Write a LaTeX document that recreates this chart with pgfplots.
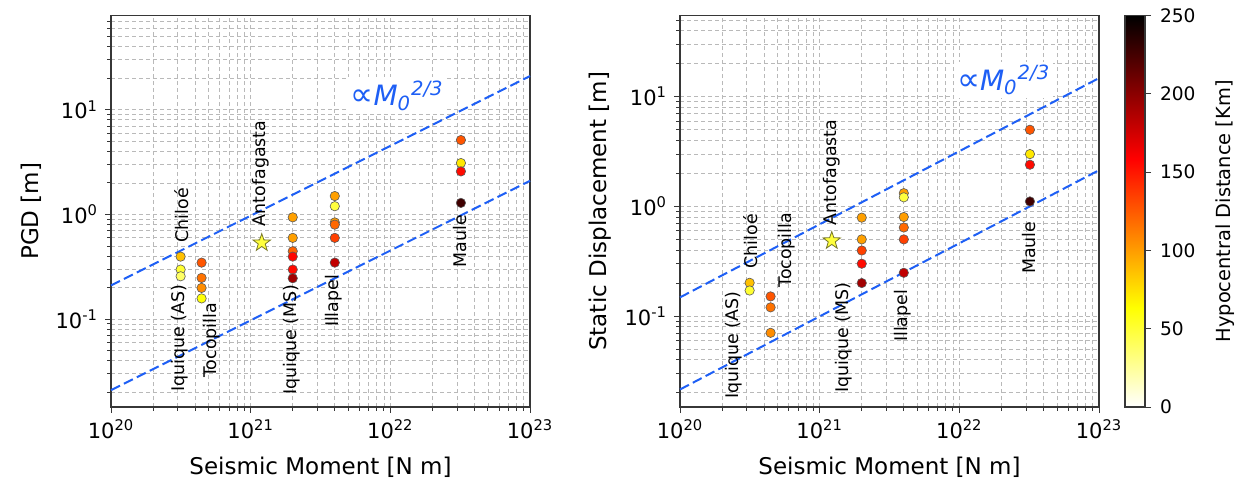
\documentclass[border=0pt]{standalone}
\usepackage{fontspec}
\setmainfont{DejaVu Sans}
\usepackage{graphicx}
\usepackage{pgfplots}
\pgfplotsset{compat=1.18}
\definecolor{lineblue}{RGB}{30,95,245}
\definecolor{gridgray}{RGB}{185,185,185}
\definecolor{axgray}{RGB}{55,55,55}
\definecolor{staryellow}{RGB}{255,255,60}
\definecolor{staredge}{RGB}{120,120,40}
\pgfdeclareplotmark{fstar}{%
  \pgfpathmoveto{\pgfpointpolar{90}{\pgfplotmarksize}}%
  \pgfpathlineto{\pgfpointpolar{126}{0.4\pgfplotmarksize}}%
  \pgfpathlineto{\pgfpointpolar{162}{\pgfplotmarksize}}%
  \pgfpathlineto{\pgfpointpolar{198}{0.4\pgfplotmarksize}}%
  \pgfpathlineto{\pgfpointpolar{234}{\pgfplotmarksize}}%
  \pgfpathlineto{\pgfpointpolar{270}{0.4\pgfplotmarksize}}%
  \pgfpathlineto{\pgfpointpolar{306}{\pgfplotmarksize}}%
  \pgfpathlineto{\pgfpointpolar{342}{0.4\pgfplotmarksize}}%
  \pgfpathlineto{\pgfpointpolar{18}{\pgfplotmarksize}}%
  \pgfpathlineto{\pgfpointpolar{54}{0.4\pgfplotmarksize}}%
  \pgfpathclose
  \pgfusepathqfillstroke
}
\pgfplotsset{
  colormap={hotr}{rgb(0pt)=(1,1,1); rgb(254pt)=(1,1,0); rgb(635pt)=(1,0,0); rgb(1000pt)=(0,0,0)},
}
\newcommand{\evfont}{\fontsize{8.7}{10}\selectfont}
\newcommand{\propfont}{\fontsize{14}{16}\selectfont}
\newcommand{\proptext}{\scalebox{1.15}{∝}\textit{M\textsubscript{0}\textsuperscript{2/3}}}
\begin{document}
\begin{tikzpicture}
\path[use as bounding box] (-55.5pt,-38pt) rectangle (562.5pt,203.5pt);
% ---------------- left: PGD ----------------
\begin{axis}[at={(0pt,0pt)}, anchor=south west,
    scale only axis, width=209.5pt, height=195.7pt,
    xmode=log, ymode=log,
    xmin=1e20, xmax=1e23,
    ymin=0.0145, ymax=79.4,
    clip=false,
    grid=both,
    major grid style={gridgray, dash pattern=on 2.2pt off 1.3pt, line width=0.45pt},
    minor grid style={gridgray, dash pattern=on 2.2pt off 1.3pt, line width=0.45pt},
    axis line style={axgray, line width=0.75pt},
    tick style={axgray, line width=0.5pt},
    major tick length=3pt, minor tick length=1.8pt,
    tick align=outside, xtick pos=bottom, ytick pos=left,
    xtick={1e20,1e21,1e22,1e23},
    xticklabels={10\textsuperscript{20},10\textsuperscript{21},10\textsuperscript{22},10\textsuperscript{23}},
    minor xtick={2e20,3e20,4e20,5e20,6e20,7e20,8e20,9e20,2e21,3e21,4e21,5e21,6e21,7e21,8e21,9e21,2e22,3e22,4e22,5e22,6e22,7e22,8e22,9e22},
    ytick={0.1,1,10},
    yticklabels={10\textsuperscript{-1},10\textsuperscript{0},10\textsuperscript{1}},
    minor ytick={0.02,0.03,0.04,0.05,0.06,0.07,0.08,0.09,0.2,0.3,0.4,0.5,0.6,0.7,0.8,0.9,2,3,4,5,6,7,8,9,20,30,40,50,60,70},
    xticklabel style={font=\fontsize{10.5}{12}\selectfont},
    yticklabel style={font=\fontsize{10.5}{12}\selectfont},
    xlabel style={font=\fontsize{11.5}{13}\selectfont, yshift=-2pt},
    ylabel style={font=\fontsize{11.5}{13}\selectfont},
    xlabel={Seismic Moment [N m]},
    ylabel={PGD [m]},
    colormap name=hotr, point meta min=0, point meta max=250]
\addplot[lineblue, line width=1pt, dash pattern=on 5pt off 2.2pt] coordinates {(1e20,0.21) (1e23,21)};
\addplot[lineblue, line width=1pt, dash pattern=on 5pt off 2.2pt] coordinates {(1e20,0.021) (1e23,2.1)};
\addplot[scatter, only marks, mark=*, mark size=2.35pt, point meta=explicit,
    scatter/use mapped color={draw=black!65, fill=mapped color}, line width=0.3pt] table[meta=c] {
x y c
3.15e20 0.396 87
3.15e20 0.298 51
3.15e20 0.257 38
4.45e20 0.347 127
4.45e20 0.248 116
4.45e20 0.199 106
4.45e20 0.158 62
2e21 0.94 99
2e21 0.598 99
2e21 0.446 122
2e21 0.396 157
2e21 0.298 155
2e21 0.246 192
4e21 1.50 99
4e21 1.20 48
4e21 0.84 100
4e21 0.80 120
4e21 0.598 135
4e21 0.347 181
3.2e22 5.14 127
3.2e22 3.10 72
3.2e22 2.58 155
3.2e22 1.29 227
};
\addplot[only marks, mark=fstar, mark size=4.6pt, line width=0.4pt,
    mark options={fill=staryellow, draw=staredge}] coordinates {(1.2e21,0.536)};
\node[rotate=90, inner sep=0pt, font=\evfont, anchor=east] at (axis cs:3.1e20,0.214) {Iquique (AS)};
\node[rotate=90, inner sep=0pt, font=\evfont, anchor=west] at (axis cs:3.2e20,0.536) {Chiloé};
\node[rotate=90, inner sep=0pt, font=\evfont, anchor=east] at (axis cs:5.25e20,0.144) {Tocopilla};
\node[rotate=90, inner sep=0pt, font=\evfont, anchor=west] at (axis cs:1.18e21,0.768) {Antofagasta};
\node[rotate=90, inner sep=0pt, font=\evfont, anchor=east] at (axis cs:1.95e21,0.214) {Iquique (MS)};
\node[rotate=90, inner sep=0pt, font=\evfont, anchor=east] at (axis cs:3.94e21,0.267) {Illapel};
\node[rotate=90, inner sep=0pt, font=\evfont, anchor=east] at (axis cs:3.15e22,1.0) {Maule};
\node[fill=white, inner sep=1.5pt, text=lineblue, font=\propfont, anchor=base west] at (axis cs:4.9e21,11.0) {\proptext};
\end{axis}
% ---------------- right: static ----------------
\begin{axis}[at={(284.5pt,0pt)}, anchor=south west,
    scale only axis, width=209.5pt, height=195.7pt,
    xmode=log, ymode=log,
    xmin=1e20, xmax=1e23,
    ymin=0.0148, ymax=55,
    clip=false,
    grid=both,
    major grid style={gridgray, dash pattern=on 2.2pt off 1.3pt, line width=0.45pt},
    minor grid style={gridgray, dash pattern=on 2.2pt off 1.3pt, line width=0.45pt},
    axis line style={axgray, line width=0.75pt},
    tick style={axgray, line width=0.5pt},
    major tick length=3pt, minor tick length=1.8pt,
    tick align=outside, xtick pos=bottom, ytick pos=left,
    xtick={1e20,1e21,1e22,1e23},
    xticklabels={10\textsuperscript{20},10\textsuperscript{21},10\textsuperscript{22},10\textsuperscript{23}},
    minor xtick={2e20,3e20,4e20,5e20,6e20,7e20,8e20,9e20,2e21,3e21,4e21,5e21,6e21,7e21,8e21,9e21,2e22,3e22,4e22,5e22,6e22,7e22,8e22,9e22},
    ytick={0.1,1,10},
    yticklabels={10\textsuperscript{-1},10\textsuperscript{0},10\textsuperscript{1}},
    minor ytick={0.02,0.03,0.04,0.05,0.06,0.07,0.08,0.09,0.2,0.3,0.4,0.5,0.6,0.7,0.8,0.9,2,3,4,5,6,7,8,9,20,30,40,50},
    xticklabel style={font=\fontsize{10.5}{12}\selectfont},
    yticklabel style={font=\fontsize{10.5}{12}\selectfont},
    xlabel style={font=\fontsize{11.5}{13}\selectfont, yshift=-2pt},
    ylabel style={font=\fontsize{11.5}{13}\selectfont},
    xlabel={Seismic Moment [N m]},
    ylabel={Static Displacement [m]},
    colormap name=hotr, point meta min=0, point meta max=250]
\addplot[lineblue, line width=1pt, dash pattern=on 5pt off 2.2pt] coordinates {(1e20,0.148) (1e23,14.8)};
\addplot[lineblue, line width=1pt, dash pattern=on 5pt off 2.2pt] coordinates {(1e20,0.0214) (1e23,2.14)};
\addplot[scatter, only marks, mark=*, mark size=2.35pt, point meta=explicit,
    scatter/use mapped color={draw=black!65, fill=mapped color}, line width=0.3pt] table[meta=c] {
x y c
3.15e20 0.201 87
3.15e20 0.171 51
4.45e20 0.151 127
4.45e20 0.120 116
4.45e20 0.0703 106
2e21 0.79 99
2e21 0.50 99
2e21 0.396 135
2e21 0.30 155
2e21 0.20 192
4e21 1.32 99
4e21 1.21 48
4e21 0.80 100
4e21 0.642 120
4e21 0.50 135
4e21 0.248 181
3.2e22 5.0 127
3.2e22 3.0 72
3.2e22 2.4 155
3.2e22 1.11 227
};
\addplot[only marks, mark=fstar, mark size=4.6pt, line width=0.4pt,
    mark options={fill=staryellow, draw=staredge}] coordinates {(1.22e21,0.486)};
\node[rotate=90, inner sep=0pt, font=\evfont, anchor=east] at (axis cs:2.43e20,0.168) {Iquique (AS)};
\node[rotate=90, inner sep=0pt, font=\evfont, anchor=west] at (axis cs:3.2e20,0.27) {Chiloé};
\node[rotate=90, inner sep=0pt, font=\evfont, anchor=west] at (axis cs:5.8e20,0.18) {Tocopilla};
\node[rotate=90, inner sep=0pt, font=\evfont, anchor=west] at (axis cs:1.21e21,0.67) {Antofagasta};
\node[rotate=90, inner sep=0pt, font=\evfont, anchor=east] at (axis cs:1.48e21,0.202) {Iquique (MS)};
\node[rotate=90, inner sep=0pt, font=\evfont, anchor=east] at (axis cs:3.94e21,0.175) {Illapel};
\node[rotate=90, inner sep=0pt, font=\evfont, anchor=east] at (axis cs:3.13e22,0.734) {Maule};
\node[fill=white, inner sep=1.5pt, text=lineblue, font=\propfont, anchor=base west] at (axis cs:9.1e21,11.5) {\proptext};
\end{axis}
% ---------------- colour bar ----------------
\begin{axis}[at={(507pt,0pt)}, anchor=south west,
  scale only axis, width=10pt, height=195.7pt,
  xmin=0, xmax=1, ymin=0, ymax=250, enlargelimits=false,
  xtick=\empty, ytick={0,50,100,150,200,250},
  yticklabels={0,50,100,150,200,250},
  ytick pos=right, yticklabel pos=right, ylabel near ticks,
  tick align=outside, major tick length=3pt,
  axis line style={axgray, line width=0.75pt},
  tick style={axgray, line width=0.5pt},
  yticklabel style={font=\fontsize{9.3}{10}\selectfont, xshift=1pt},
  ylabel={Hypocentral Distance [Km]},
  ylabel shift=3pt,
  ylabel style={font=\fontsize{9.7}{11}\selectfont},
  colormap name=hotr, point meta min=0, point meta max=250, axis on top]
\addplot[surf, shader=interp, point meta=y, mesh/cols=2] coordinates {(0,0) (1,0) (0,250) (1,250)};
\end{axis}
\end{tikzpicture}
\end{document}
